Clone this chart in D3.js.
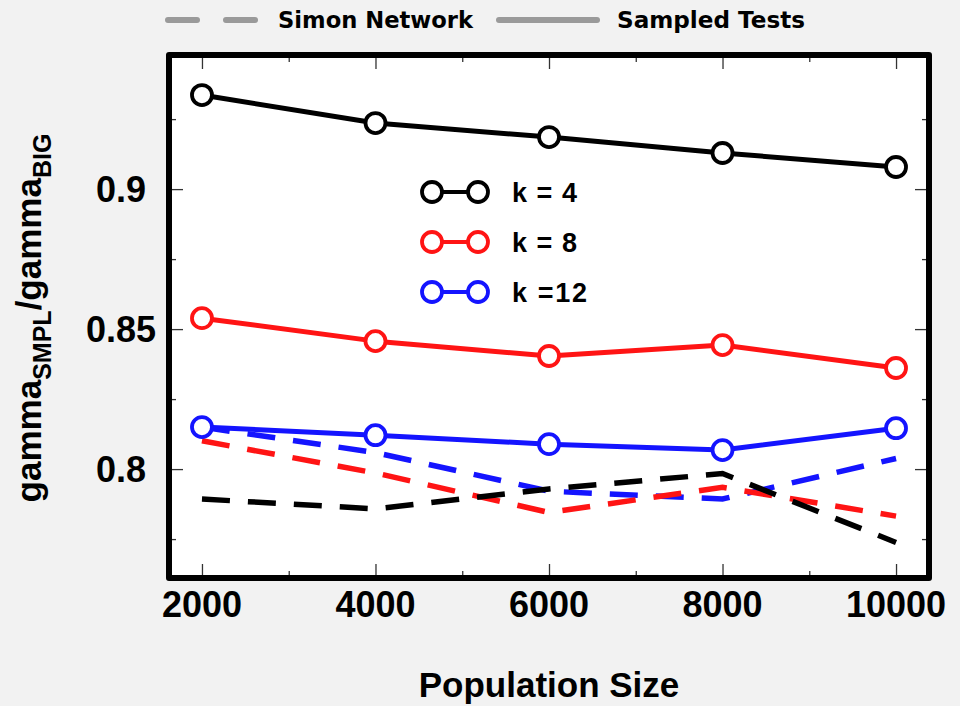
<!DOCTYPE html>
<html>
<head>
<meta charset="utf-8">
<script src="https://cdn.jsdelivr.net/npm/d3@7"></script>
<style>
  body { margin: 0; background: #f2f2f2; }
  svg { display: block; }
  .tick-label { font-family: "Liberation Sans", Arial, sans-serif; font-weight: bold; font-size: 36px; fill: #000; }
</style>
</head>
<body>
<div id="chart"></div>
<script>
var svgWidth = 960;
var svgHeight = 706;

// plot frame in pixels
var frame = { left: 169, right: 929, top: 55, bottom: 578 };

// data
var popSizes = [2000, 4000, 6000, 8000, 10000];
var sampledK4 = [0.9336, 0.9236, 0.9186, 0.9129, 0.9079];
var sampledK8 = [0.8539, 0.8457, 0.8404, 0.8443, 0.8361];
var sampledK12 = [0.8150, 0.8121, 0.8089, 0.8068, 0.8146];
var simonK4 = [0.7893, 0.7858, 0.7929, 0.7984, 0.7738];
var simonK8 = [0.8101, 0.7986, 0.7845, 0.7935, 0.7832];
var simonK12 = [0.8150, 0.8059, 0.7921, 0.7893, 0.8038];

var kLabels = ["k = 4", "k = 8", "k =12"];
var kColors = ["#000000", "#ff1414", "#1414ff"];
var topLegendLabels = ["Simon Network", "Sampled Tests"];

var xMajorTicks = [2000, 4000, 6000, 8000, 10000];
var xMinorTicks = [3000, 5000, 7000, 9000];
var yMajorTicks = [0.8, 0.85, 0.9];
var yMinorTicks = [0.775, 0.825, 0.875, 0.925];

var svg = d3.select("#chart")
  .append("svg")
  .attr("width", svgWidth)
  .attr("height", svgHeight);

svg.append("rect")
  .attr("width", svgWidth)
  .attr("height", svgHeight)
  .attr("fill", "#f2f2f2");

// scales
var xScale = d3.scaleLinear()
  .domain([1620, 10380])
  .range([frame.left, frame.right]);

var yScale = d3.scaleLinear()
  .domain([0.7611, 0.9479])
  .range([frame.bottom, frame.top]);

// white plot area
svg.append("rect")
  .attr("x", frame.left)
  .attr("y", frame.top)
  .attr("width", frame.right - frame.left)
  .attr("height", frame.bottom - frame.top)
  .attr("fill", "#fff");

// ticks on all four sides, pointing inwards
function tickAxis(axis, ticks, size, transform) {
  var g = svg.append("g")
    .attr("transform", transform)
    .call(axis.tickValues(ticks).tickSize(-size).tickFormat(""));
  g.select(".domain").remove();
  g.selectAll("line").attr("stroke", "#333").attr("stroke-width", 1.3);
  return g;
}

tickAxis(d3.axisBottom(xScale), xMajorTicks, 14, `translate(0, ${frame.bottom})`);
tickAxis(d3.axisBottom(xScale), xMinorTicks, 7, `translate(0, ${frame.bottom})`);
tickAxis(d3.axisTop(xScale), xMajorTicks, 14, `translate(0, ${frame.top})`);
tickAxis(d3.axisTop(xScale), xMinorTicks, 7, `translate(0, ${frame.top})`);
tickAxis(d3.axisLeft(yScale), yMajorTicks, 14, `translate(${frame.left}, 0)`);
tickAxis(d3.axisLeft(yScale), yMinorTicks, 7, `translate(${frame.left}, 0)`);
tickAxis(d3.axisRight(yScale), yMajorTicks, 14, `translate(${frame.right}, 0)`);
tickAxis(d3.axisRight(yScale), yMinorTicks, 7, `translate(${frame.right}, 0)`);

// tick labels
svg.append("g").selectAll("text")
  .data(xMajorTicks)
  .enter()
  .append("text")
  .attr("class", "tick-label")
  .attr("x", d => xScale(d))
  .attr("y", 617)
  .attr("text-anchor", "middle")
  .text(d => d);

// y labels are centred in their column, as in the original
svg.append("g").selectAll("text")
  .data(yMajorTicks)
  .enter()
  .append("text")
  .attr("class", "tick-label")
  .attr("x", 121)
  .attr("y", d => yScale(d) + 13)
  .attr("text-anchor", "middle")
  .text(d => d3.format("")(d));

// lines
var line = d3.line()
  .x((d, i) => xScale(popSizes[i]))
  .y(d => yScale(d));

var simonSeries = [simonK12, simonK8, simonK4];
var simonColors = [kColors[2], kColors[1], kColors[0]];

simonSeries.forEach(function(s, i) {
  svg.append("path")
    .datum(s)
    .attr("d", line)
    .attr("fill", "none")
    .attr("stroke", simonColors[i])
    .attr("stroke-width", 5.5)
    .attr("stroke-dasharray", "28,18");
});

var sampledSeries = [sampledK4, sampledK8, sampledK12];

sampledSeries.forEach(function(s, i) {
  svg.append("path")
    .datum(s)
    .attr("d", line)
    .attr("fill", "none")
    .attr("stroke", kColors[i])
    .attr("stroke-width", 5)
    .attr("stroke-linejoin", "round");

  svg.append("g").selectAll("circle")
    .data(s)
    .enter()
    .append("circle")
    .attr("cx", (d, j) => xScale(popSizes[j]))
    .attr("cy", d => yScale(d))
    .attr("r", 10)
    .attr("fill", "#fff")
    .attr("stroke", kColors[i])
    .attr("stroke-width", 3.8);
});

// frame
svg.append("rect")
  .attr("x", frame.left)
  .attr("y", frame.top)
  .attr("width", frame.right - frame.left)
  .attr("height", frame.bottom - frame.top)
  .attr("fill", "none")
  .attr("stroke", "#000")
  .attr("stroke-width", 6)
  .attr("stroke-linejoin", "round");

// inner legend (k values)
var kLegend = svg.append("g").selectAll("g")
  .data(kLabels)
  .enter()
  .append("g")
  .attr("transform", (d, i) => `translate(0, ${192 + i * 50})`);

kLegend.append("line")
  .attr("x1", 432)
  .attr("x2", 478)
  .attr("stroke", (d, i) => kColors[i])
  .attr("stroke-width", 4);

kLegend.each(function(d, i) {
  d3.select(this).selectAll("circle")
    .data([432, 478])
    .enter()
    .append("circle")
    .attr("cx", c => c)
    .attr("r", 10)
    .attr("fill", "#fff")
    .attr("stroke", kColors[i])
    .attr("stroke-width", 3.8);
});

kLegend.append("text")
  .attr("x", 512)
  .attr("y", 10)
  .attr("font-family", "Liberation Sans, Arial, sans-serif")
  .attr("font-weight", "bold")
  .attr("font-size", 27)
  .attr("textLength", (d, i) => i === 2 ? 75 : 65)
  .attr("lengthAdjust", "spacing")
  .text(d => d);

// top legend
var topLegend = svg.append("g");

topLegend.append("line")
  .attr("x1", 168)
  .attr("x2", 255)
  .attr("y1", 20)
  .attr("y2", 20)
  .attr("stroke", "#9a9a9a")
  .attr("stroke-width", 6)
  .attr("stroke-linecap", "round")
  .attr("stroke-dasharray", "29,29");

topLegend.append("line")
  .attr("x1", 499)
  .attr("x2", 597)
  .attr("y1", 20)
  .attr("y2", 20)
  .attr("stroke", "#9a9a9a")
  .attr("stroke-width", 6)
  .attr("stroke-linecap", "round");

topLegend.selectAll("text")
  .data(topLegendLabels)
  .enter()
  .append("text")
  .attr("x", (d, i) => i === 0 ? 278 : 617)
  .attr("y", 28)
  .attr("font-family", "DejaVu Sans, sans-serif")
  .attr("font-weight", "bold")
  .attr("font-size", 23)
  .attr("textLength", (d, i) => i === 0 ? 195 : 188)
  .attr("lengthAdjust", "spacingAndGlyphs")
  .text(d => d);

// axis titles
svg.append("text")
  .attr("x", 549)
  .attr("y", 697)
  .attr("text-anchor", "middle")
  .attr("font-family", "Liberation Sans, Arial, sans-serif")
  .attr("font-weight", "bold")
  .attr("font-size", 35)
  .text("Population Size");

var yTitle = svg.append("text")
  .attr("transform", "translate(41, 318) rotate(-90)")
  .attr("text-anchor", "middle")
  .attr("font-family", "Liberation Sans, Arial, sans-serif")
  .attr("font-weight", "bold")
  .attr("font-size", 35);

yTitle.append("tspan").text("gamma");
yTitle.append("tspan").attr("font-size", 25).attr("dy", 10).text("SMPL");
yTitle.append("tspan").attr("dy", -10).text("/gamma");
yTitle.append("tspan").attr("font-size", 25).attr("dy", 10).text("BIG");
</script>
</body>
</html>
